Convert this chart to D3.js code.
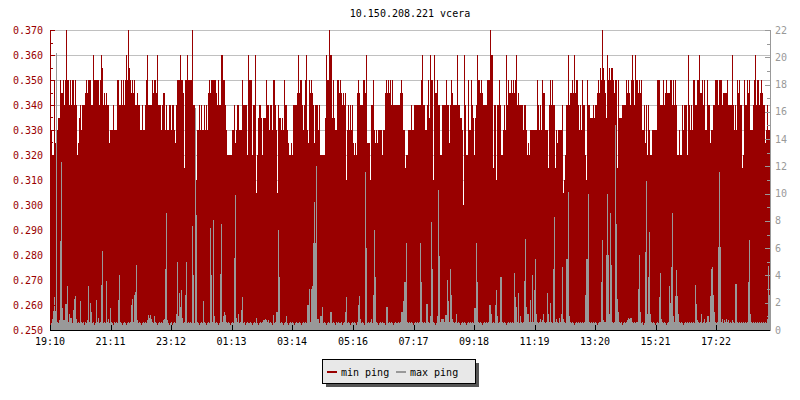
<!DOCTYPE html>
<html><head><meta charset="utf-8">
<script src="https://cdn.jsdelivr.net/npm/d3@7"></script>
<style>
body{margin:0;background:#fff}
svg{display:block}
text{font-family:"DejaVu Sans Mono",monospace;font-size:10px}
</style>
</head><body><svg id="c" width="800" height="400"></svg>
<script>
const title = "10.150.208.221 vcera";
const startTime = "19:10";
const stepMinutes = 2;
const timeTickLabels = ["19:10","21:11","23:12","01:13","03:14","05:16","07:17","09:18","11:19","13:20","15:21","17:22"];
const leftTicks = [0.250,0.260,0.270,0.280,0.290,0.300,0.310,0.320,0.330,0.340,0.350,0.360,0.370];
const rightTicks = [0,2,4,6,8,10,12,14,16,18,20,22];
const seriesNames = ["min ping","max ping"];

// min ping (left axis), one value per 2-minute sample
const minPing = [
0.33,0.33,0.32,0.32,0.35,0.325,0.35,0.33,0.335,0.335,
0.35,0.345,0.345,0.35,0.34,0.35,0.37,0.35,0.35,0.34,
0.35,0.34,0.35,0.35,0.34,0.35,0.34,0.32,0.325,0.335,
0.34,0.33,0.34,0.34,0.34,0.345,0.35,0.345,0.35,0.35,
0.35,0.34,0.34,0.36,0.35,0.35,0.35,0.35,0.35,0.34,
0.35,0.36,0.355,0.34,0.345,0.34,0.345,0.34,0.34,0.325,
0.33,0.33,0.33,0.34,0.33,0.33,0.33,0.35,0.35,0.34,
0.34,0.35,0.34,0.35,0.34,0.35,0.36,0.35,0.37,0.355,
0.35,0.345,0.35,0.345,0.35,0.34,0.34,0.345,0.34,0.34,
0.33,0.33,0.34,0.33,0.33,0.34,0.35,0.36,0.34,0.34,
0.34,0.34,0.35,0.345,0.35,0.35,0.345,0.36,0.34,0.34,
0.34,0.33,0.34,0.345,0.345,0.33,0.34,0.33,0.33,0.34,
0.34,0.33,0.34,0.34,0.33,0.325,0.34,0.35,0.35,0.35,
0.36,0.35,0.35,0.345,0.315,0.35,0.35,0.36,0.35,0.35,
0.35,0.35,0.37,0.34,0.34,0.33,0.31,0.33,0.33,0.34,
0.33,0.34,0.33,0.33,0.34,0.33,0.34,0.33,0.345,0.35,
0.345,0.35,0.35,0.35,0.35,0.35,0.345,0.34,0.35,0.34,
0.34,0.36,0.36,0.35,0.35,0.34,0.33,0.32,0.32,0.32,
0.32,0.32,0.33,0.33,0.34,0.325,0.33,0.34,0.34,0.33,
0.33,0.33,0.35,0.34,0.34,0.34,0.34,0.32,0.36,0.35,
0.35,0.35,0.32,0.34,0.34,0.36,0.305,0.32,0.335,0.34,
0.34,0.335,0.32,0.335,0.335,0.335,0.35,0.34,0.34,0.33,
0.34,0.34,0.33,0.35,0.35,0.34,0.33,0.305,0.34,0.335,
0.335,0.33,0.335,0.33,0.35,0.34,0.34,0.33,0.325,0.32,
0.32,0.325,0.32,0.34,0.34,0.34,0.34,0.345,0.36,0.345,
0.35,0.35,0.34,0.33,0.34,0.35,0.36,0.33,0.325,0.35,
0.345,0.35,0.345,0.34,0.325,0.34,0.34,0.34,0.33,0.34,
0.32,0.32,0.32,0.32,0.32,0.335,0.36,0.35,0.35,0.37,
0.36,0.36,0.335,0.35,0.335,0.33,0.33,0.35,0.35,0.345,
0.35,0.345,0.34,0.345,0.34,0.345,0.31,0.33,0.34,0.33,
0.34,0.33,0.34,0.325,0.32,0.325,0.32,0.345,0.35,0.345,
0.34,0.34,0.34,0.35,0.35,0.345,0.36,0.325,0.325,0.325,
0.31,0.34,0.34,0.35,0.33,0.325,0.33,0.325,0.33,0.33,
0.33,0.33,0.32,0.33,0.33,0.345,0.35,0.345,0.35,0.345,
0.35,0.34,0.35,0.34,0.34,0.34,0.34,0.34,0.34,0.34,
0.345,0.35,0.345,0.33,0.33,0.315,0.32,0.32,0.33,0.33,
0.33,0.34,0.33,0.33,0.34,0.34,0.34,0.34,0.34,0.34,
0.34,0.35,0.36,0.34,0.34,0.33,0.33,0.34,0.35,0.335,
0.36,0.35,0.35,0.31,0.36,0.345,0.345,0.35,0.34,0.34,
0.32,0.32,0.34,0.34,0.34,0.34,0.35,0.34,0.34,0.325,
0.34,0.35,0.345,0.34,0.34,0.34,0.34,0.36,0.34,0.34,
0.335,0.335,0.33,0.30,0.36,0.34,0.32,0.32,0.35,0.33,
0.33,0.35,0.34,0.335,0.32,0.335,0.34,0.36,0.35,0.35,
0.345,0.35,0.345,0.34,0.34,0.34,0.34,0.35,0.35,0.35,
0.37,0.36,0.36,0.315,0.34,0.34,0.31,0.34,0.34,0.35,
0.34,0.32,0.32,0.33,0.34,0.33,0.36,0.34,0.35,0.345,
0.345,0.35,0.345,0.35,0.345,0.35,0.36,0.34,0.345,0.34,
0.34,0.34,0.34,0.33,0.34,0.34,0.33,0.32,0.325,0.32,
0.33,0.33,0.33,0.33,0.33,0.33,0.33,0.35,0.34,0.33,
0.34,0.33,0.35,0.345,0.345,0.33,0.33,0.33,0.315,0.34,
0.35,0.34,0.35,0.34,0.34,0.315,0.33,0.325,0.33,0.33,
0.33,0.33,0.34,0.305,0.31,0.32,0.34,0.34,0.36,0.34,
0.345,0.345,0.35,0.345,0.36,0.345,0.35,0.35,0.34,0.33,
0.34,0.33,0.35,0.34,0.34,0.32,0.31,0.35,0.34,0.34,
0.335,0.335,0.335,0.34,0.335,0.34,0.34,0.345,0.35,0.345,
0.355,0.35,0.37,0.355,0.35,0.345,0.335,0.36,0.35,0.355,
0.35,0.355,0.355,0.35,0.345,0.35,0.35,0.315,0.35,0.335,
0.335,0.335,0.34,0.34,0.34,0.34,0.35,0.345,0.35,0.345,
0.34,0.35,0.36,0.35,0.34,0.36,0.35,0.35,0.345,0.35,
0.345,0.35,0.33,0.33,0.34,0.325,0.34,0.32,0.34,0.33,
0.32,0.32,0.33,0.33,0.33,0.33,0.33,0.35,0.35,0.35,
0.34,0.34,0.34,0.35,0.34,0.345,0.35,0.345,0.345,0.345,
0.35,0.35,0.34,0.35,0.34,0.35,0.34,0.32,0.32,0.33,
0.32,0.32,0.34,0.33,0.34,0.34,0.34,0.32,0.36,0.34,
0.33,0.34,0.33,0.35,0.35,0.34,0.34,0.35,0.35,0.36,
0.345,0.345,0.35,0.34,0.35,0.33,0.33,0.35,0.34,0.34,
0.325,0.33,0.33,0.34,0.34,0.35,0.35,0.35,0.34,0.35,
0.35,0.35,0.34,0.345,0.345,0.345,0.345,0.35,0.34,0.34,
0.34,0.34,0.36,0.34,0.33,0.34,0.33,0.35,0.345,0.35,
0.34,0.34,0.315,0.32,0.35,0.34,0.34,0.35,0.345,0.35,
0.33,0.33,0.33,0.34,0.35,0.36,0.34,0.35,0.35,0.34,
0.345,0.35,0.345,0.34,0.34,0.325,0.33,0.34,0.33,0.33
];

// max ping (right axis), one value per 2-minute sample
const maxPing = [
0.6,0.5,0.8,1.4,2.4,1.4,20.3,0.6,0.5,0.7,
6.5,12.3,1.6,0.7,0.7,1.9,1.9,3.2,0.6,1.2,
0.9,0.9,0.5,1.5,2.3,2.5,0.8,0.5,0.6,0.5,
2.1,0.6,0.5,0.6,0.4,0.6,0.5,0.7,3.2,0.6,
2.0,1.3,0.5,0.6,0.4,0.5,2.2,0.6,0.9,0.5,
0.6,3.3,5.8,0.5,0.6,0.5,3.6,0.6,0.8,0.5,
1.6,0.6,0.5,0.4,0.6,0.5,0.6,0.5,2.2,4.0,
0.6,0.5,0.4,0.5,0.6,0.5,0.4,0.5,0.6,0.5,
0.6,1.8,2.3,0.6,2.6,2.8,4.8,0.7,0.5,0.6,
0.5,0.4,0.5,0.6,0.5,0.6,0.5,0.7,1.1,0.9,
1.1,0.8,0.6,0.5,1.0,0.6,0.5,0.4,0.5,0.6,
0.5,0.6,0.5,0.7,0.8,4.5,8.6,0.7,0.5,0.4,
0.5,0.6,0.4,0.5,0.6,0.5,1.2,5.0,1.0,2.7,
1.7,2.9,0.9,0.5,0.6,2.6,5.0,0.5,0.6,0.5,
0.6,0.5,7.6,4.0,0.5,16.3,8.4,0.6,0.5,0.4,
0.5,0.6,0.5,2.1,0.6,0.5,0.4,0.5,0.6,0.5,
7.5,4.0,0.6,8.1,1.0,0.5,0.6,0.5,0.4,0.5,
4.1,7.8,0.6,1.0,1.3,1.1,0.6,0.5,0.6,0.5,
0.4,0.5,0.6,0.5,5.3,9.9,0.9,0.6,1.2,0.5,
0.6,1.5,2.4,0.5,0.6,0.4,0.5,0.6,0.5,0.5,
0.6,0.5,0.4,0.5,0.6,0.5,0.9,0.5,0.4,0.5,
0.6,0.5,0.6,0.7,0.7,0.8,0.7,0.6,0.7,0.5,
0.6,0.5,0.4,1.1,0.5,0.6,1.3,1.3,7.3,3.9,
0.5,0.6,0.5,0.4,0.5,0.6,1.0,0.5,0.4,0.5,
0.6,0.5,0.6,0.5,0.4,0.5,0.6,0.5,0.5,0.6,
0.5,0.4,0.5,0.6,0.5,0.6,0.5,1.8,1.8,3.0,
0.6,3.0,3.2,6.4,9.4,6.4,12.0,0.8,0.8,0.5,
1.0,1.0,1.7,0.5,0.6,0.5,0.4,0.5,0.6,0.5,
1.3,1.3,0.5,0.6,0.5,0.4,0.6,0.5,0.6,0.5,
0.5,0.6,0.4,0.5,0.6,1.3,2.4,0.5,0.6,0.5,
0.4,0.5,0.6,0.5,0.6,0.5,0.4,0.6,1.8,2.5,
0.8,0.5,0.6,0.5,0.4,11.6,6.0,0.5,0.6,0.5,
0.6,0.8,0.5,2.6,7.3,3.9,0.6,0.5,0.4,0.5,
0.6,0.5,0.6,0.5,0.5,0.4,1.7,1.7,0.5,0.6,
0.5,0.6,0.5,0.4,0.5,0.6,0.5,0.5,0.6,0.5,
0.6,1.3,1.3,2.1,3.5,3.5,6.4,0.6,0.5,0.6,
0.5,0.6,0.5,0.4,0.5,0.6,0.5,0.6,0.5,0.6,
6.4,3.5,0.6,0.5,0.6,0.5,1.9,1.9,0.6,0.5,
1.0,7.9,4.5,0.6,0.5,0.4,0.5,1.0,10.3,5.4,
0.6,0.8,0.8,0.8,0.6,1.1,1.1,3.7,2.1,0.6,
4.5,2.6,0.8,0.6,0.5,0.6,1.2,0.5,0.6,0.5,
0.4,0.5,0.6,0.5,0.6,0.5,0.4,0.5,0.6,0.5,
0.6,0.5,0.6,0.5,1.6,1.6,6.4,3.5,0.6,0.5,
0.6,0.5,0.4,0.5,0.6,0.5,0.6,0.5,0.6,1.8,
1.8,1.2,0.5,0.6,0.5,1.8,2.9,1.0,0.5,0.6,
3.9,3.9,0.6,0.5,0.6,0.5,0.4,0.5,0.6,0.5,
0.6,0.5,0.6,0.5,4.2,2.4,1.7,0.6,2.7,0.5,
1.0,0.6,0.5,0.6,3.6,6.7,1.7,1.2,1.2,0.6,
2.2,0.6,4.0,0.6,2.9,5.2,1.2,0.6,0.5,0.6,
0.8,0.6,0.7,1.2,0.6,0.5,0.6,2.7,1.2,0.6,
2.0,0.6,0.5,4.5,8.3,0.6,0.8,0.6,0.5,0.9,
0.6,1.2,4.6,0.8,0.6,0.5,5.2,5.2,10.1,1.0,
0.6,0.5,0.6,0.5,0.4,0.5,0.6,0.5,0.6,0.5,
0.6,0.5,0.6,0.5,0.6,2.6,5.2,5.2,10.0,0.6,
0.5,0.6,0.5,0.6,0.5,0.6,0.5,0.4,0.5,0.6,
0.6,3.5,6.6,0.7,0.6,0.6,5.5,10.0,5.5,1.2,
8.6,4.8,0.6,0.5,0.6,15.0,7.8,2.3,1.3,0.6,
0.5,0.6,0.4,0.5,0.6,0.5,0.6,0.7,0.9,0.8,
0.9,0.9,0.6,0.5,0.6,0.5,0.6,0.6,3.0,5.5,
1.3,0.5,0.6,0.4,0.5,5.7,10.9,1.2,3.9,7.2,
1.2,0.6,0.5,0.6,0.5,0.4,0.5,0.6,0.5,2.4,
4.2,0.8,0.6,0.5,0.6,0.5,0.4,0.5,0.6,3.2,
2.0,4.6,8.6,1.0,0.6,2.5,4.4,2.5,1.2,0.6,
0.5,0.6,0.5,0.4,0.5,0.6,0.5,0.6,0.5,0.6,
0.5,0.6,0.5,0.6,0.5,3.3,1.9,0.7,0.6,0.5,
0.6,1.2,0.5,0.6,0.8,0.5,0.6,1.0,1.0,0.6,
2.5,4.5,4.6,2.6,1.3,0.6,0.5,0.6,6.1,11.6,
6.1,0.6,0.8,0.5,0.7,0.6,0.8,0.6,0.7,0.5,
0.6,0.5,0.7,0.6,0.5,3.4,3.4,0.6,0.5,0.6,
0.5,0.6,0.5,0.6,0.5,0.6,0.5,0.6,3.5,6.6,
1.2,0.6,0.5,0.6,0.5,0.6,0.5,0.6,0.5,0.6,
0.5,0.6,0.5,0.6,0.5,0.6,0.5,0.8,4.7,2.6
];

const colors = {min:"#990000", max:"#999999", grid:"#c0c0c0", leftText:"#990000", rightText:"#999999"};

const svg = d3.select("#c");
const L = 50, R = 770, T = 30, B = 330;
const totalMinutes = minPing.length * stepMinutes;

function toMin(s){ const [h,m] = s.split(":").map(Number); return h*60+m; }
const t0 = toMin(startTime);
const tickOffsets = timeTickLabels.map(s => (toMin(s) - t0 + 1440) % 1440);

const x = d3.scaleLinear().domain([0, totalMinutes]).range([L, R]);
const yL = d3.scaleLinear().domain([leftTicks[0], leftTicks[leftTicks.length-1]]).range([B, T]);
const yR = d3.scaleLinear().domain([rightTicks[0], rightTicks[rightTicks.length-1]]).range([B, T]);

// grid
svg.append("g").selectAll("line").data(leftTicks.slice(1)).join("line")
  .attr("x1", L).attr("x2", R)
  .attr("y1", d => Math.round(yL(d)) + 0.5).attr("y2", d => Math.round(yL(d)) + 0.5)
  .attr("stroke", colors.grid).attr("stroke-width", 1);

function stepData(arr){
  const pts = arr.map((v,i) => [i*stepMinutes, v]);
  pts.push([totalMinutes, arr[arr.length-1]]);
  return pts;
}

const areaMin = d3.area().curve(d3.curveStepAfter)
  .x(d => x(d[0])).y0(yL(leftTicks[0])).y1(d => yL(d[1]));
const areaMax = d3.area().curve(d3.curveStepAfter)
  .x(d => x(d[0])).y0(yR(0)).y1(d => yR(d[1]));

svg.append("path").datum(stepData(minPing)).attr("d", areaMin)
  .attr("fill", colors.min).attr("shape-rendering", "crispEdges");
svg.append("path").datum(stepData(maxPing)).attr("d", areaMax)
  .attr("fill", colors.max).attr("shape-rendering", "crispEdges");

// left axis
const gl = svg.append("g").attr("shape-rendering","crispEdges");
gl.append("line").attr("x1", L+0.5).attr("x2", L+0.5).attr("y1", T).attr("y2", B+1).attr("stroke", colors.min);
const leftMinor = d3.range(leftTicks.length-1).map(i => (leftTicks[i]+leftTicks[i+1])/2);
gl.selectAll("line.mj").data(leftTicks).join("line").attr("class","mj")
  .attr("x1", L).attr("x2", L+5).attr("y1", d=>Math.round(yL(d))+0.5).attr("y2", d=>Math.round(yL(d))+0.5).attr("stroke", colors.min);
gl.selectAll("line.mn").data(leftMinor).join("line").attr("class","mn")
  .attr("x1", L).attr("x2", L+3).attr("y1", d=>Math.round(yL(d))+0.5).attr("y2", d=>Math.round(yL(d))+0.5).attr("stroke", colors.min);
gl.selectAll("text").data(leftTicks).join("text")
  .attr("x", L-7).attr("y", d => yL(d)).attr("dy","0.35em").attr("text-anchor","end")
  .attr("fill", colors.leftText).text(d3.format(".3f"));

// right axis
const gr = svg.append("g").attr("shape-rendering","crispEdges");
gr.append("line").attr("x1", R+0.5).attr("x2", R+0.5).attr("y1", T).attr("y2", B+1).attr("stroke", colors.max);
const rightMinor = d3.range(rightTicks.length-1).map(i => (rightTicks[i]+rightTicks[i+1])/2);
gr.selectAll("line.mj").data(rightTicks).join("line").attr("class","mj")
  .attr("x1", R-5).attr("x2", R).attr("y1", d=>Math.round(yR(d))+0.5).attr("y2", d=>Math.round(yR(d))+0.5).attr("stroke", colors.max);
gr.selectAll("line.mn").data(rightMinor).join("line").attr("class","mn")
  .attr("x1", R-3).attr("x2", R).attr("y1", d=>Math.round(yR(d))+0.5).attr("y2", d=>Math.round(yR(d))+0.5).attr("stroke", colors.max);
gr.selectAll("text").data(rightTicks).join("text")
  .attr("x", R+5).attr("y", d => yR(d)).attr("dy","0.35em").attr("text-anchor","start")
  .attr("fill", colors.rightText).text(d => d);

// bottom axis
const gb = svg.append("g").attr("shape-rendering","crispEdges");
gb.append("line").attr("x1", L).attr("x2", R).attr("y1", B+0.5).attr("y2", B+0.5).attr("stroke", "#000");
gb.selectAll("line.tk").data(tickOffsets).join("line").attr("class","tk")
  .attr("x1", d=>Math.round(x(d))+0.5).attr("x2", d=>Math.round(x(d))+0.5).attr("y1", B-5).attr("y2", B+1).attr("stroke","#000");
gb.selectAll("text").data(timeTickLabels).join("text")
  .attr("x", (d,i) => x(tickOffsets[i])).attr("y", B+15).attr("text-anchor","middle")
  .attr("fill","#000").text(d => d);

// title
svg.append("text").attr("x", (L+R)/2).attr("y", 17).attr("text-anchor","middle").attr("fill","#000").text(title);

// legend
const lg = svg.append("g").attr("shape-rendering","crispEdges");
lg.append("rect").attr("x", 326).attr("y", 363).attr("width", 153).attr("height", 24).attr("fill", "#555");
lg.append("rect").attr("x", 322.5).attr("y", 359.5).attr("width", 153).attr("height", 24).attr("fill", "#e8e8e8").attr("stroke","#000");
const legendColors = [colors.min, colors.max];
const legendX = [327, 396];
seriesNames.forEach((n,i) => {
  lg.append("rect").attr("x", legendX[i]).attr("y", 371).attr("width", 10).attr("height", 2).attr("fill", legendColors[i]);
  lg.append("text").attr("x", legendX[i]+14).attr("y", 375.5).attr("fill","#000").text(n);
});
</script></body></html>
